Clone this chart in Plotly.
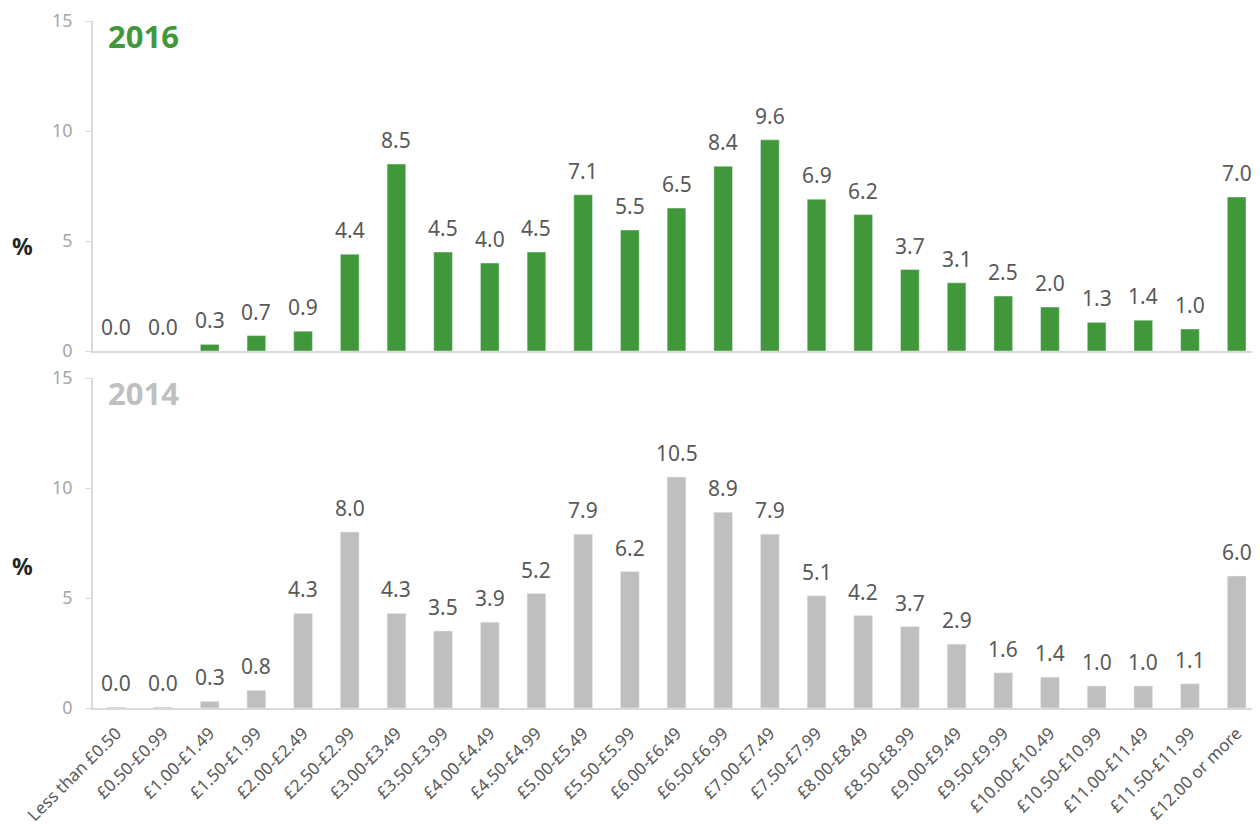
import plotly.graph_objects as go

# price bands (x categories)
bands = ['Less than £0.50', '£0.50-£0.99', '£1.00-£1.49', '£1.50-£1.99', '£2.00-£2.49',
         '£2.50-£2.99', '£3.00-£3.49', '£3.50-£3.99', '£4.00-£4.49', '£4.50-£4.99',
         '£5.00-£5.49', '£5.50-£5.99', '£6.00-£6.49', '£6.50-£6.99', '£7.00-£7.49',
         '£7.50-£7.99', '£8.00-£8.49', '£8.50-£8.99', '£9.00-£9.49', '£9.50-£9.99',
         '£10.00-£10.49', '£10.50-£10.99', '£11.00-£11.49', '£11.50-£11.99', '£12.00 or more']

# % of jobs in each band
pct_2016 = [0.0, 0.0, 0.3, 0.7, 0.9, 4.4, 8.5, 4.5, 4.0, 4.5, 7.1, 5.5, 6.5, 8.4, 9.6,
            6.9, 6.2, 3.7, 3.1, 2.5, 2.0, 1.3, 1.4, 1.0, 7.0]
pct_2014 = [0.04, 0.04, 0.3, 0.8, 4.3, 8.0, 4.3, 3.5, 3.9, 5.2, 7.9, 6.2, 10.5, 8.9, 7.9,
            5.1, 4.2, 3.7, 2.9, 1.6, 1.4, 1.0, 1.0, 1.1, 6.0]

GREEN = '#41983a'
GREY = '#bfbfbf'
FONT = 'Noto Sans'

# page body has an 8px margin, so the figure is 8px smaller than the window
W, H = 1252, 822


def px(x, y):
    # window pixel -> paper fraction
    return (x - 8) / W, 1 - (y - 8) / H


fig = go.Figure()
fig.add_trace(go.Bar(x=bands, y=pct_2016, marker_color=GREEN,
                     xaxis='x', yaxis='y', showlegend=False, hoverinfo='x+y'))
fig.add_trace(go.Bar(x=bands, y=pct_2014, marker_color=GREY,
                     xaxis='x2', yaxis='y2', showlegend=False, hoverinfo='x+y'))

# value labels sit a little above each bar, like the Excel original
labels = []
for axis_suffix, values in (('', pct_2016), ('2', pct_2014)):
    for band, v in zip(bands, values):
        labels.append(dict(x=band, y=v, xref='x' + axis_suffix, yref='y' + axis_suffix,
                           text=f'{v:.1f}', showarrow=False, yanchor='bottom', yshift=8,
                           font=dict(size=21, color='#595959', family=FONT)))

yax = dict(range=[0, 15], tickvals=[0, 5, 10, 15], showgrid=False, zeroline=False,
           showline=True, linecolor='#d9d9d9', linewidth=1.5,
           ticks='outside', ticklen=6, tickcolor='#d9d9d9', ticklabelstandoff=9,
           tickfont=dict(size=18, color='#a6a6a6', family=FONT))
xax = dict(showgrid=False, zeroline=False, showline=True, linecolor='#d9d9d9', linewidth=1.5,
           domain=[px(93, 0)[0], 1])


def note(text, x, y, size, color, anchor='left'):
    fx, fy = px(x, y)
    return dict(text=text, x=fx, y=fy, xref='paper', yref='paper',
                xanchor=anchor, yanchor='middle', showarrow=False,
                font=dict(size=size, color=color, family=FONT))


titles = [
    note('<b>2016</b>', 106, 36, 31, GREEN),
    note('<b>2014</b>', 106, 393, 31, GREY),
    note('<b>%</b>', 22, 246, 23, '#262626', 'center'),
    note('<b>%</b>', 22, 566, 23, '#262626', 'center'),
]

fig.update_layout(
    width=W, height=H,
    margin=dict(l=0, r=0, t=0, b=0, autoexpand=False),
    plot_bgcolor='white', paper_bgcolor='white',
    bargap=0.6,
    font=dict(family=FONT),
    xaxis=dict(xax, anchor='y', showticklabels=False),
    yaxis=dict(yax, domain=[px(0, 351)[1], px(0, 21)[1]], anchor='x'),
    xaxis2=dict(xax, anchor='y2', tickangle=-45, ticklabelstandoff=7,
                tickfont=dict(size=17, color='#595959', family=FONT)),
    yaxis2=dict(yax, domain=[px(0, 708)[1], px(0, 378)[1]], anchor='x2'),
    annotations=labels + titles,
)

fig.write_html('out.html')
